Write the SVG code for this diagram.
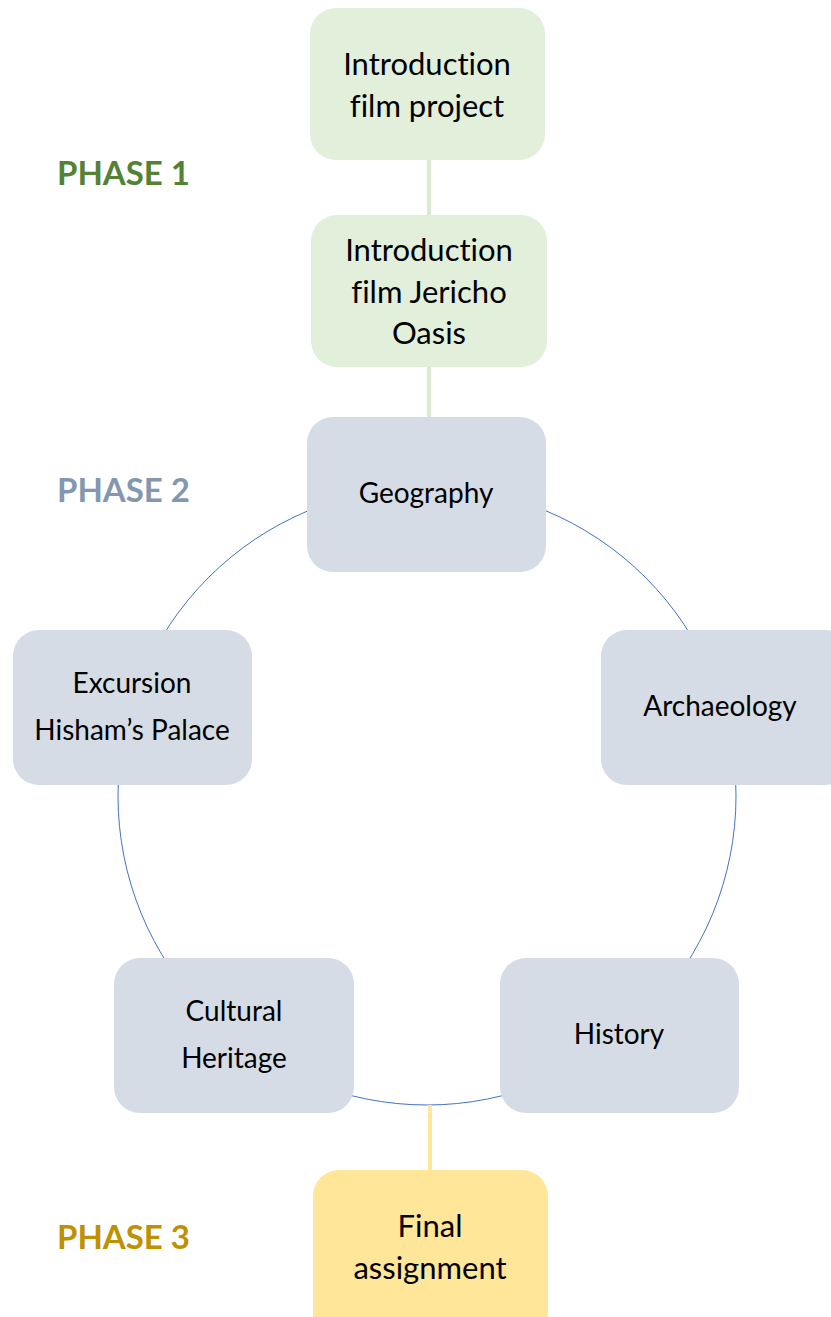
<svg xmlns="http://www.w3.org/2000/svg" width="831" height="1317" viewBox="0 0 831 1317">
<style>
.t{font-family:Lato,"Open Sans","Liberation Sans",sans-serif;fill:#000;text-anchor:middle;font-variant-ligatures:none}
.big{font-size:31px}
.mid{font-size:28px}
.ph{font-family:Lato,"Open Sans","Liberation Sans",sans-serif;font-weight:bold;font-size:33px}
.g{fill:#E2EFDA}
.b{fill:#D6DCE5}
.y{fill:#FFE699}
</style>
<rect width="831" height="1317" fill="#fff"/>
<g id="connectors">
<circle cx="427" cy="796" r="309" fill="none" stroke="#4472C4" stroke-width="1"/>
<line x1="429" y1="158" x2="429" y2="218" stroke="#D9EAD3" stroke-width="4"/>
<line x1="429" y1="365" x2="429" y2="420" stroke="#D9EAD3" stroke-width="4"/>
<line x1="430" y1="1105" x2="430" y2="1172" stroke="#FFE699" stroke-width="4"/>
</g>
<g id="phase1"><text class="ph" x="57" y="185" fill="#548235">PHASE 1</text></g>
<g id="phase2"><text class="ph" x="57" y="502" fill="#8497B0">PHASE 2</text></g>
<g id="phase3"><text class="ph" x="57" y="1249" fill="#BF9000">PHASE 3</text></g>
<g id="intro-project"><rect class="g" x="310" y="8" width="235" height="152" rx="26"/>
<text class="t big" x="427" y="75">Introduction</text><text class="t big" x="427" y="117">film project</text></g>
<g id="intro-jericho"><rect class="g" x="311" y="215" width="236" height="152" rx="26"/>
<text class="t big" x="429" y="261">Introduction</text><text class="t big" x="429" y="303">film Jericho</text><text class="t big" x="429" y="344">Oasis</text></g>
<g id="geography"><rect class="b" x="307" y="417" width="239" height="155" rx="26"/>
<text class="t mid" x="426" y="503">Geography</text></g>
<g id="archaeology"><rect class="b" x="601" y="630" width="250" height="155" rx="26"/>
<text class="t mid" x="720" y="716">Archaeology</text></g>
<g id="excursion"><rect class="b" x="13" y="630" width="239" height="155" rx="26"/>
<text class="t mid" x="132" y="693">Excursion</text><text class="t mid" x="132" y="740">Hisham’s Palace</text></g>
<g id="history"><rect class="b" x="500" y="958" width="239" height="155" rx="26"/>
<text class="t mid" x="619" y="1044">History</text></g>
<g id="cultural"><rect class="b" x="114" y="958" width="240" height="155" rx="26"/>
<text class="t mid" x="234" y="1021">Cultural</text><text class="t mid" x="234" y="1068">Heritage</text></g>
<g id="final"><rect class="y" x="313" y="1170" width="235" height="170" rx="26"/>
<text class="t big" x="430" y="1237">Final</text><text class="t big" x="430" y="1279">assignment</text></g>
</svg>
